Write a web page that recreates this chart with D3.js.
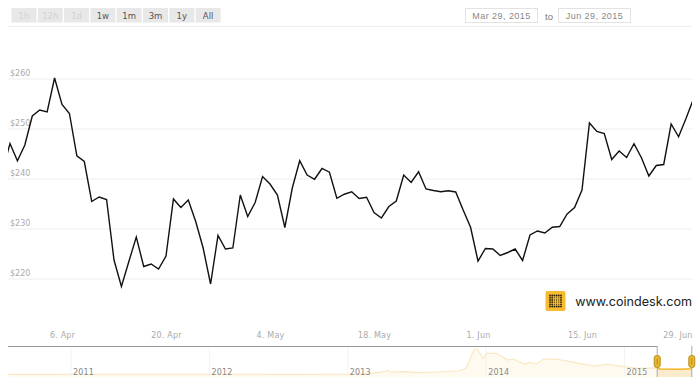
<!DOCTYPE html>
<html>
<head>
<meta charset="utf-8">
<script src="https://cdnjs.cloudflare.com/ajax/libs/d3/7.8.5/d3.min.js"></script>
<style>
    html, body { margin: 0; padding: 0; background: #fff; }
    svg { display: block; }
    text { font-family: "DejaVu Sans", sans-serif; }
    .domain { display: none; }
</style>
</head>
<body>
<script>
const rangeButtons = ["1h", "12h", "1d", "1w", "1m", "3m", "1y", "All"];
const disabledButtons = ["1h", "12h", "1d"];
const dateLabels = ["Mar 29, 2015", "Jun 29, 2015"];

const startDay = "2015-03-29";
// daily price, usd
const prices = [
    241.5, 247.0, 243.55, 246.7, 252.5, 253.7, 253.3, 260.1, 254.8, 253.0,
    244.55, 243.4, 235.4, 236.3, 235.8, 223.7, 218.4, 223.4, 228.3, 222.4,
    222.9, 221.9, 224.5, 235.9, 234.2, 235.7, 231.4, 226.1, 218.9, 228.6,
    225.9, 226.1, 236.7, 232.4, 235.2, 240.4, 238.9, 236.7, 230.2, 238.1,
    243.55, 240.7, 239.85, 242.0, 241.25, 236.05, 236.85, 237.35, 236.0, 236.25,
    233.2, 232.1, 234.4, 235.5, 240.7, 239.2, 241.35, 237.9, 237.6, 237.35,
    237.55, 237.3, 233.7, 230.25, 223.5, 226.0, 225.9, 224.6, 225.2, 225.9,
    223.6, 228.7, 229.5, 229.1, 230.25, 230.4, 232.9, 234.2, 237.7, 251.1,
    249.4, 249.0, 243.8, 245.5, 244.2, 246.95, 244.15, 240.5, 242.6, 242.8,
    250.9, 248.35, 252.0, 255.9
];
const priceTicks = [220, 230, 240, 250, 260];
const dateTicks = ["2015-04-06", "2015-04-20", "2015-05-04", "2015-05-18", "2015-06-01", "2015-06-15", "2015-06-29"];
const dateTickLabels = ["6. Apr", "20. Apr", "4. May", "18. May", "1. Jun", "15. Jun", "29. Jun"];

// navigator, whole history (decimal years)
const navYears = [
    2010.55, 2011.5, 2012.5, 2013.03, 2013.17, 2013.27, 2013.29, 2013.31, 2013.41, 2013.51,
    2013.65, 2013.80, 2013.86, 2013.90, 2013.92, 2013.94, 2013.98, 2014.01, 2014.08, 2014.16,
    2014.20, 2014.28, 2014.32, 2014.37, 2014.42, 2014.52, 2014.61, 2014.71, 2014.78, 2014.88,
    2015.0, 2015.10, 2015.24, 2015.26, 2015.40, 2015.49, 2015.50
];
const navPrices = [
    9, 12, 10, 20, 54, 126, 189, 113, 126, 81,
    113, 158, 279, 878, 1149, 1149, 730, 955, 955, 653,
    698, 473, 532, 486, 698, 685, 577, 459, 383, 459,
    351, 279, 300, 250, 235, 255, 300
];
const navTicks = [2011, 2012, 2013, 2014, 2015];
const selectedYears = [2015.24, 2015.49];

const width = 700, height = 389;
const left = 8, right = 692;

const svg = d3.select("body").append("svg")
    .attr("width", width)
    .attr("height", height);

const parseDay = d3.utcParse("%Y-%m-%d");
const days = prices.map((d, i) => d3.utcDay.offset(parseDay(startDay), i));

const x = d3.scaleUtc()
    .domain([parseDay("2015-04-06"), parseDay("2015-06-29")])
    .range([62, 686]);
const y = d3.scaleLinear().domain([220, 260]).range([278.5, 78.5]);

// range buttons
const button = svg.append("g").selectAll("g")
    .data(rangeButtons)
    .join("g")
    .attr("transform", (d, i) => `translate(${11.5 + i * 26.3},8)`);
button.append("rect")
    .attr("width", 25)
    .attr("height", 14.5)
    .attr("fill", "#e8e8e8");
button.append("text")
    .attr("x", 12.5)
    .attr("y", 10.8)
    .attr("text-anchor", "middle")
    .attr("font-size", 8.5)
    .attr("fill", d => disabledButtons.includes(d) ? "#d2d2d2" : "#555")
    .text(d => d);

// date boxes
const dateBox = svg.append("g").selectAll("g")
    .data(dateLabels)
    .join("g")
    .attr("transform", (d, i) => `translate(${465.5 + i * 93},8.5)`);
dateBox.append("rect")
    .attr("width", 72)
    .attr("height", 14)
    .attr("fill", "#fff")
    .attr("stroke", "#e2e2e2");
dateBox.append("text")
    .attr("x", 36)
    .attr("y", 10.5)
    .attr("text-anchor", "middle")
    .attr("font-size", 9)
    .attr("letter-spacing", 0.45)
    .style("font-family", "'Liberation Sans', sans-serif")
    .attr("fill", "#888")
    .text(d => d);
svg.append("text")
    .attr("x", 549)
    .attr("y", 19.5)
    .attr("text-anchor", "middle")
    .attr("font-size", 9.5)
    .style("font-family", "'Liberation Sans', sans-serif")
    .attr("fill", "#777")
    .text("to");

// top rule of the plot
svg.append("line")
    .attr("x1", left).attr("x2", right)
    .attr("y1", 26.5).attr("y2", 26.5)
    .attr("stroke", "#eee");

// y grid and labels
const yAxis = svg.append("g")
    .attr("transform", `translate(${left},0)`)
    .call(d3.axisRight(y).tickValues(priceTicks).tickSize(right - left).tickFormat(d => "$" + d));
yAxis.selectAll("line").attr("stroke", "#eee").attr("stroke-width", 1.2);
yAxis.selectAll("text")
    .attr("x", 2)
    .attr("dy", -3)
    .attr("font-size", 8)
    .attr("font-family", null)
    .attr("fill", "#aaa");

// x labels
const xAxis = svg.append("g")
    .attr("transform", "translate(0,329)")
    .call(d3.axisBottom(x)
        .tickValues(dateTicks.map(parseDay))
        .tickSize(0)
        .tickFormat((d, i) => dateTickLabels[i]));
xAxis.selectAll("text")
    .attr("font-size", 8)
    .attr("letter-spacing", 0.2)
    .attr("fill", "#aaa")
    .attr("text-anchor", (d, i) => i == dateTicks.length - 1 ? "end" : "middle")
    .attr("dx", (d, i) => i == dateTicks.length - 1 ? 6 : 0);

// price line
svg.append("clipPath").attr("id", "plot-clip")
    .append("rect")
    .attr("x", left).attr("y", 26)
    .attr("width", right - left).attr("height", 300);

svg.append("path")
    .datum(prices)
    .attr("clip-path", "url(#plot-clip)")
    .attr("fill", "none")
    .attr("stroke", "#111")
    .attr("stroke-width", 1.4)
    .attr("stroke-linejoin", "miter")
    .attr("d", d3.line().x((d, i) => x(days[i])).y(d => y(d)));

// logo
const logo = svg.append("g").attr("transform", "translate(545.5,291)");
logo.append("rect")
    .attr("width", 20).attr("height", 20).attr("rx", 2)
    .attr("fill", "#f6bb2e");
logo.selectAll("circle")
    .data(d3.cross(d3.range(6), d3.range(6)))
    .join("circle")
    .attr("cx", d => 4.5 + d[0] * 2.2)
    .attr("cy", d => 4.5 + d[1] * 2.2)
    .attr("r", d => (d[0] > 1 && d[0] < 5 && d[1] > 0 && d[1] < 5) ? 0.55 : 0.9)
    .attr("fill", "#2a2108");
svg.append("text")
    .attr("x", 692)
    .attr("y", 305.5)
    .attr("text-anchor", "end")
    .attr("font-size", 12.6)
    .style("font-family", "Inter, sans-serif")
    .attr("fill", "#222")
    .text("www.coindesk.com");

// navigator
const navX = d3.scaleLinear().domain([2011, 2015]).range([70.5, 624]);
const navY = d3.scaleLinear().domain([0, 1150]).range([374.5, 349]);
const navBottom = 377;
const navTop = 346;

const navPoints = navYears.map((d, i) => [d, navPrices[i]]);
const navLine = d3.line().x(d => navX(d[0])).y(d => navY(d[1]));
const navArea = d3.area().x(d => navX(d[0])).y0(navBottom).y1(d => navY(d[1]));

svg.append("clipPath").attr("id", "nav-clip")
    .append("rect")
    .attr("x", left).attr("y", navTop)
    .attr("width", right - left).attr("height", navBottom - navTop);
svg.append("clipPath").attr("id", "nav-selected-clip")
    .append("rect")
    .attr("x", navX(selectedYears[0])).attr("y", navTop)
    .attr("width", navX(selectedYears[1]) - navX(selectedYears[0])).attr("height", navBottom - navTop);

const navAxis = svg.append("g")
    .attr("transform", `translate(0,${navTop})`)
    .call(d3.axisBottom(navX).tickValues(navTicks).tickSize(navBottom - navTop - 1).tickFormat(d3.format("d")));
navAxis.selectAll("line").attr("stroke", "#eee");

const navPlain = svg.append("g").attr("clip-path", "url(#nav-clip)");
navPlain.append("path").datum(navPoints)
    .attr("d", navArea)
    .attr("fill", "#f6bb2e")
    .attr("fill-opacity", 0.07);
navPlain.append("path").datum(navPoints)
    .attr("d", navLine)
    .attr("fill", "none")
    .attr("stroke", "#fbe8c2")
    .attr("stroke-width", 1.2);

// year labels sit above the area
navAxis.raise();
navAxis.selectAll("line").attr("stroke-opacity", 0.7);
navAxis.selectAll("text")
    .attr("text-anchor", "start")
    .attr("x", 2)
    .attr("y", 29)
    .attr("dy", 0)
    .attr("font-size", 8)
    .attr("letter-spacing", 0.2)
    .attr("fill", "#888");

const navSelected = svg.append("g").attr("clip-path", "url(#nav-selected-clip)");
navSelected.append("path").datum(navPoints)
    .attr("d", navArea)
    .attr("fill", "#f3d9a0")
    .attr("fill-opacity", 0.45);
navSelected.append("path").datum(navPoints)
    .attr("d", navLine)
    .attr("fill", "none")
    .attr("stroke", "#f4b526")
    .attr("stroke-width", 1.5);

// outline left of the selection
svg.append("line")
    .attr("x1", left).attr("x2", navX(selectedYears[0]))
    .attr("y1", navTop + 0.5).attr("y2", navTop + 0.5)
    .attr("stroke", "#999");

const handle = svg.append("g").selectAll("g")
    .data(selectedYears)
    .join("g")
    .attr("transform", d => `translate(${navX(d)},0)`);
handle.append("line")
    .attr("y1", navTop).attr("y2", navBottom)
    .attr("stroke", "#aaa");
handle.append("rect")
    .attr("x", -3).attr("y", 355.5)
    .attr("width", 6).attr("height", 12).attr("rx", 2.5)
    .attr("fill", "#eab52f")
    .attr("stroke", "#b98f1e");
handle.append("line")
    .attr("y1", 358.5).attr("y2", 364.5)
    .attr("stroke", "#b98f1e");
</script>
</body>
</html>
